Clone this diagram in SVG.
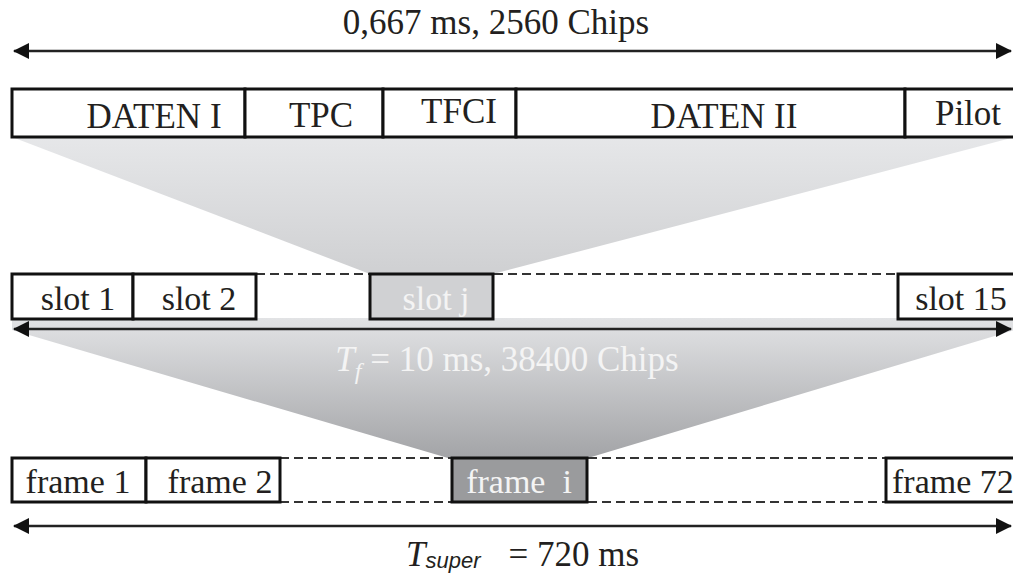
<svg xmlns="http://www.w3.org/2000/svg" width="1013" height="574" viewBox="0 0 1013 574">
<defs>
<linearGradient id="g1" x1="0" y1="0" x2="0" y2="1">
<stop offset="0" stop-color="#e6e7e9"/>
<stop offset="1" stop-color="#cfd0d2"/>
</linearGradient>
<linearGradient id="g2" x1="0" y1="0" x2="0" y2="1">
<stop offset="0" stop-color="#e2e3e5"/>
<stop offset="1" stop-color="#a3a4a7"/>
</linearGradient>
<marker id="ah" viewBox="0 0 16 16" refX="15" refY="8" markerWidth="16" markerHeight="16" markerUnits="userSpaceOnUse" orient="auto-start-reverse">
<path d="M0,0 L16,8 L0,16 Z" fill="#111"/>
</marker>
<style>
.t{font-family:"Liberation Serif","Times New Roman",serif;font-size:35px;fill:#231f20;text-anchor:middle}
.s{font-size:34px}
.w{fill:#f4f4f4}
.box{fill:#fff;stroke:#111;stroke-width:3}
.dash{stroke:#333;stroke-width:2;stroke-dasharray:9 5;fill:none}
.arr{stroke:#222;stroke-width:2.5;fill:none}
</style>
</defs>
<g id="funnels">
<polygon points="12,137 1015,137 493,274 370,274" fill="url(#g1)"/>
<polygon points="12,318 1015,318 1015,330 588,458 448,458 12,330" fill="url(#g2)"/>
</g>
<g id="connectors">
<line class="arr" x1="14" y1="51" x2="1011" y2="51" marker-start="url(#ah)" marker-end="url(#ah)"/>
<line class="arr" x1="14" y1="329" x2="1011" y2="329" stroke-width="2" marker-start="url(#ah)" marker-end="url(#ah)"/>
<line class="arr" x1="14" y1="526" x2="1011" y2="526" stroke-width="2" marker-start="url(#ah)" marker-end="url(#ah)"/>
<line class="dash" x1="256" y1="274" x2="898" y2="274"/>
<line class="dash" x1="280" y1="458" x2="886" y2="458"/>
<line class="dash" x1="280" y1="502" x2="886" y2="502"/>
</g>
<text class="t" x="496" y="34">0,667 ms, 2560 Chips</text>
<g id="slotfields">
<g id="daten1"><rect class="box" x="12" y="89" width="233" height="48"/><text class="t" x="154" y="128">DATEN I</text></g>
<g id="tpc"><rect class="box" x="245" y="89" width="138" height="48"/><text class="t" x="321" y="127">TPC</text></g>
<g id="tfci"><rect class="box" x="383" y="89" width="133" height="48"/><text class="t" x="459" y="123">TFCI</text></g>
<g id="daten2"><rect class="box" x="516" y="89" width="389" height="48"/><text class="t" x="724" y="128">DATEN II</text></g>
<g id="pilot"><rect class="box" x="905" y="89" width="112" height="48"/><text class="t" x="968" y="125">Pilot</text></g>
</g>
<g id="slots">
<g id="slot1"><rect class="box" x="12" y="274" width="121" height="45"/><text class="t s" x="78" y="310">slot 1</text></g>
<g id="slot2"><rect class="box" x="133" y="274" width="123" height="45"/><text class="t s" x="199" y="310">slot 2</text></g>
<g id="slotj"><rect class="box" x="370" y="274" width="123" height="45" style="fill:#d0d1d3"/><text class="t s w" x="436" y="310">slot j</text></g>
<g id="slot15"><rect class="box" x="898" y="274" width="119" height="45"/><text class="t s" x="961" y="310">slot 15</text></g>
</g>
<text class="t w" x="507" y="371"><tspan font-style="italic">T</tspan><tspan font-style="italic" font-size="24" dy="8">f</tspan><tspan dy="-8"> = 10 ms, 38400 Chips</tspan></text>
<g id="frames">
<g id="frame1"><rect class="box" x="12" y="458" width="134" height="44"/><text class="t s" x="78" y="493">frame 1</text></g>
<g id="frame2"><rect class="box" x="146" y="458" width="134" height="44"/><text class="t s" x="220" y="493">frame 2</text></g>
<g id="framei"><rect class="box" x="452" y="458" width="135" height="44" style="fill:#9a9b9d"/><text class="t s w" x="519" y="493" xml:space="preserve">frame  i</text></g>
<g id="frame72"><rect class="box" x="886" y="458" width="131" height="44"/><text class="t s" x="892" y="493" style="text-anchor:start">frame 72</text></g>
</g>
<text class="t" x="406" y="566" style="text-anchor:start"><tspan font-style="italic">T</tspan><tspan font-family="Liberation Sans, Arial, sans-serif" font-style="italic" font-size="22" dy="2">super</tspan><tspan dy="-2" dx="28">= 720 ms</tspan></text>
</svg>
